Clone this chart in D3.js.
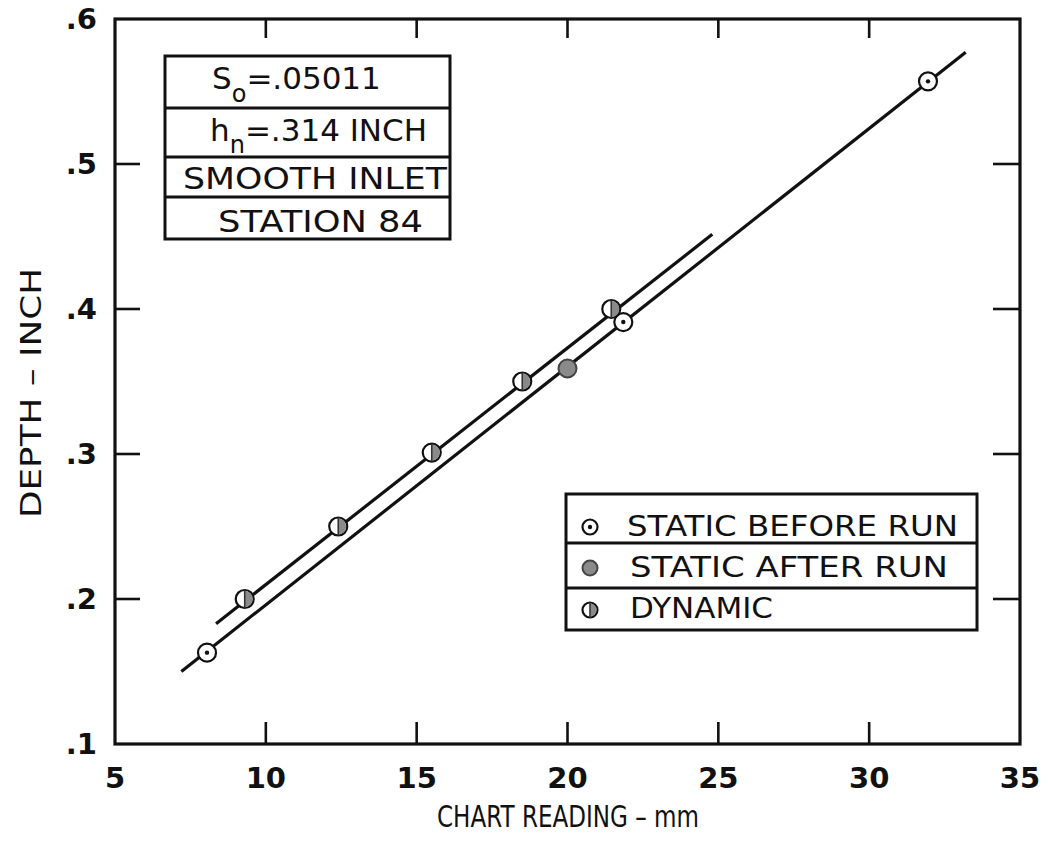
<!DOCTYPE html>
<html>
<head>
<meta charset="utf-8">
<script src="https://cdn.jsdelivr.net/npm/d3@7"></script>
<style>
  html, body { margin: 0; padding: 0; background: #fff; }
  svg { display: block; }
  text { font-family: "DejaVu Sans", sans-serif; fill: #111; }
</style>
</head>
<body>
<svg id="chart" width="1048" height="846"></svg>
<script>
// Axis ticks
const xTicks = [5, 10, 15, 20, 25, 30, 35];
const yTicks = [0.1, 0.2, 0.3, 0.4, 0.5, 0.6];

// Measured points: [chart reading (mm), depth (inch)]
const staticBefore = [[8.05, 0.163], [21.85, 0.391], [31.95, 0.557]];
const staticAfter  = [[20.0, 0.359]];
const dynamic      = [[9.3, 0.200], [12.4, 0.250], [15.5, 0.301], [18.5, 0.350], [21.45, 0.400]];

// Calibration lines (end points)
const dynamicFit = [[8.35, 0.183], [24.8, 0.4515]];
const staticFit  = [[7.2, 0.150], [33.2, 0.577]];

// Text blocks
const infoRows = ["S", "h", "SMOOTH INLET", "STATION 84"];
const legendLabels = ["STATIC BEFORE RUN", "STATIC AFTER RUN", "DYNAMIC"];

const svg = d3.select("#chart");
const m = { left: 115, right: 1020, top: 19, bottom: 744 };

const x = d3.scaleLinear().domain([5, 35]).range([m.left, m.right]);
const y = d3.scaleLinear().domain([0.1, 0.6]).range([m.bottom, m.top]);

const ink = "#111";
const grey = "#8a8a8a";

// Frame
svg.append("rect")
  .attr("x", m.left).attr("y", m.top)
  .attr("width", m.right - m.left).attr("height", m.bottom - m.top)
  .attr("fill", "none").attr("stroke", ink).attr("stroke-width", 3.2);

// Inward ticks on all four sides
const tickLen = 22;
const fmtY = d => d3.format(".1f")(d).replace(/^0/, "");

const gTicks = svg.append("g").attr("stroke", ink).attr("stroke-width", 2.6);
xTicks.slice(1, -1).forEach(v => {
  gTicks.append("line").attr("x1", x(v)).attr("x2", x(v)).attr("y1", m.bottom).attr("y2", m.bottom - tickLen);
  gTicks.append("line").attr("x1", x(v)).attr("x2", x(v)).attr("y1", m.top).attr("y2", m.top + tickLen - 3);
});
yTicks.slice(1, -1).forEach(v => {
  gTicks.append("line").attr("y1", y(v)).attr("y2", y(v)).attr("x1", m.left).attr("x2", m.left + tickLen + 3);
  gTicks.append("line").attr("y1", y(v)).attr("y2", y(v)).attr("x1", m.right).attr("x2", m.right - tickLen - 5);
});

// Tick labels
svg.append("g").selectAll("text").data(xTicks).join("text")
  .attr("x", d => x(d)).attr("y", 788)
  .attr("text-anchor", "middle")
  .attr("font-size", 29)
  .attr("font-weight", "bold")
  .text(d => d);

svg.append("g").selectAll("text").data(yTicks).join("text")
  .attr("x", 97).attr("y", d => y(d) + 10)
  .attr("text-anchor", "end")
  .attr("font-size", 29)
  .attr("font-weight", "bold")
  .text(fmtY);

// Axis titles
svg.append("text")
  .attr("x", 568).attr("y", 827)
  .attr("text-anchor", "middle")
  .attr("font-size", 30)
  .attr("textLength", 262).attr("lengthAdjust", "spacingAndGlyphs")
  .text("CHART READING \u2013 mm");

svg.append("text")
  .attr("transform", "translate(41,393) rotate(-90)")
  .attr("text-anchor", "middle")
  .attr("font-size", 29)
  .attr("textLength", 250).attr("lengthAdjust", "spacingAndGlyphs")
  .text("DEPTH \u2013 INCH");

// Calibration lines
const line = d3.line().x(d => x(d[0])).y(d => y(d[1]));
svg.append("path").datum(staticFit).attr("d", line)
  .attr("fill", "none").attr("stroke", ink).attr("stroke-width", 3.2);
svg.append("path").datum(dynamicFit).attr("d", line)
  .attr("fill", "none").attr("stroke", ink).attr("stroke-width", 3.2);

// Marker painters
function drawBefore(g, cx, cy, r) {
  g.append("circle").attr("cx", cx).attr("cy", cy).attr("r", r)
    .attr("fill", "#fff").attr("stroke", ink).attr("stroke-width", 2.2);
  g.append("circle").attr("cx", cx).attr("cy", cy).attr("r", 2.2).attr("fill", ink);
}
function drawAfter(g, cx, cy, r) {
  g.append("circle").attr("cx", cx).attr("cy", cy).attr("r", r)
    .attr("fill", grey).attr("stroke", "#444").attr("stroke-width", 2);
}
function drawDynamic(g, cx, cy, r) {
  g.append("circle").attr("cx", cx).attr("cy", cy).attr("r", r)
    .attr("fill", "#fff").attr("stroke", ink).attr("stroke-width", 2.2);
  const arc = d3.arc().innerRadius(0).outerRadius(r - 1).startAngle(0).endAngle(Math.PI);
  g.append("path").attr("d", arc()).attr("transform", `translate(${cx},${cy})`)
    .attr("fill", grey);
  g.append("line").attr("x1", cx).attr("x2", cx).attr("y1", cy - r).attr("y2", cy + r)
    .attr("stroke", "#333").attr("stroke-width", 1.6);
}

const gPts = svg.append("g");
const R = 9;
staticBefore.forEach(d => drawBefore(gPts, x(d[0]), y(d[1]), R));
staticAfter.forEach(d => drawAfter(gPts, x(d[0]), y(d[1]), R));
dynamic.forEach(d => drawDynamic(gPts, x(d[0]), y(d[1]), R));

// Info box (upper left)
const info = svg.append("g");
const ib = { x0: 165, x1: 450, rows: [56, 108, 157, 197, 239] };
info.append("rect").attr("x", ib.x0).attr("y", ib.rows[0])
  .attr("width", ib.x1 - ib.x0).attr("height", ib.rows[4] - ib.rows[0])
  .attr("fill", "#fff").attr("stroke", ink).attr("stroke-width", 3);
ib.rows.slice(1, -1).forEach(r => {
  info.append("line").attr("x1", ib.x0).attr("x2", ib.x1).attr("y1", r).attr("y2", r)
    .attr("stroke", ink).attr("stroke-width", 3);
});

const t1 = info.append("text").attr("x", 212).attr("y", 89).attr("font-size", 31);
t1.append("tspan").text("S");
t1.append("tspan").attr("font-size", 24).attr("dy", 13).text("o");
t1.append("tspan").attr("dy", -13).attr("font-size", 31).text("=.05011");

const t2 = info.append("text").attr("x", 210).attr("y", 141).attr("font-size", 31);
t2.append("tspan").text("h");
t2.append("tspan").attr("font-size", 24).attr("dy", 12).text("n");
t2.append("tspan").attr("dy", -12).attr("font-size", 31).text("=.314 INCH");

info.append("text").attr("x", 183).attr("y", 189).attr("font-size", 30)
  .attr("textLength", 264).attr("lengthAdjust", "spacingAndGlyphs")
  .text(infoRows[2]);
info.append("text").attr("x", 218).attr("y", 232).attr("font-size", 30)
  .attr("textLength", 205).attr("lengthAdjust", "spacingAndGlyphs")
  .text(infoRows[3]);

// Legend box (lower right)
const lg = svg.append("g");
const lb = { x0: 566, x1: 977, rows: [494, 543, 588, 630] };
lg.append("rect").attr("x", lb.x0).attr("y", lb.rows[0])
  .attr("width", lb.x1 - lb.x0).attr("height", lb.rows[3] - lb.rows[0])
  .attr("fill", "#fff").attr("stroke", ink).attr("stroke-width", 3);
lb.rows.slice(1, -1).forEach(r => {
  lg.append("line").attr("x1", lb.x0).attr("x2", lb.x1).attr("y1", r).attr("y2", r)
    .attr("stroke", ink).attr("stroke-width", 3);
});

const legendY = [527, 568, 610];
const legendBase = [536, 577, 618];
const legendLen = [331, 318, 143];
const legendX = [627, 630, 630];
const painters = [drawBefore, drawAfter, drawDynamic];
legendLabels.forEach((lbl, i) => {
  painters[i](lg, 590, legendY[i], 7.5);
  lg.append("text").attr("x", legendX[i]).attr("y", legendBase[i])
    .attr("font-size", 29)
    .attr("textLength", legendLen[i]).attr("lengthAdjust", "spacingAndGlyphs")
    .text(lbl);
});
</script>
</body>
</html>
